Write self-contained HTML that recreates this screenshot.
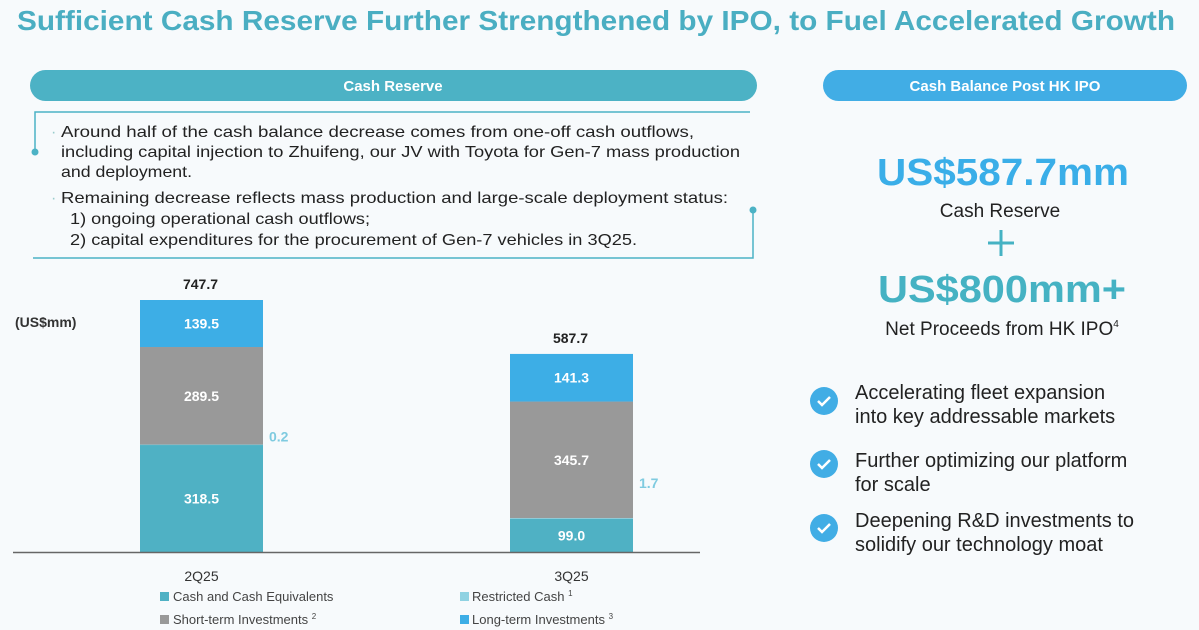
<!DOCTYPE html>
<html><head><meta charset="utf-8"><style>
html,body{margin:0;padding:0;background:#f7fafc;}
svg{display:block;font-family:"Liberation Sans",sans-serif;}
</style></head><body>
<svg id="s" width="1199" height="630" viewBox="0 0 1199 630">
<rect x="0" y="0" width="1199" height="630" fill="#f7fafc"/>
<text x="17" y="30" font-size="28" font-weight="bold" fill="#4aaec2" textLength="1158" lengthAdjust="spacingAndGlyphs">Sufficient Cash Reserve Further Strengthened by IPO, to Fuel Accelerated Growth</text>

<g>
<rect x="30" y="70" width="727" height="31" rx="15.5" fill="#4cb2c5"/>
<text x="393" y="91" font-size="15" font-weight="bold" fill="#fff" text-anchor="middle">Cash Reserve</text>
</g>
<g stroke="#4cb2c5" stroke-width="1.5" fill="none">
<path d="M35 152 V112 H750"/>
<path d="M33 258 H753 V210"/>
</g>
<circle cx="35" cy="152" r="3.5" fill="#4cb2c5"/>
<circle cx="753" cy="210" r="3.5" fill="#4cb2c5"/>
<g font-size="16" fill="#222">
<text x="51" y="137" fill="#9cc">·</text>
<text x="61" y="137" textLength="633" lengthAdjust="spacingAndGlyphs">Around half of the cash balance decrease comes from one-off cash outflows,</text>
<text x="61" y="157" textLength="679" lengthAdjust="spacingAndGlyphs">including capital injection to Zhuifeng, our JV with Toyota for Gen-7 mass production</text>
<text x="61" y="177" textLength="131" lengthAdjust="spacingAndGlyphs">and deployment.</text>
<text x="51" y="203" fill="#9cc">·</text>
<text x="61" y="203" textLength="667" lengthAdjust="spacingAndGlyphs">Remaining decrease reflects mass production and large-scale deployment status:</text>
<text x="70" y="224" textLength="300" lengthAdjust="spacingAndGlyphs">1) ongoing operational cash outflows;</text>
<text x="70" y="245" textLength="567" lengthAdjust="spacingAndGlyphs">2) capital expenditures for the procurement of Gen-7 vehicles in 3Q25.</text>
</g>

<text x="15" y="327" font-size="14" font-weight="bold" fill="#333">(US$mm)</text>
<g id="chart"></g>
<line x1="13" y1="552.5" x2="700" y2="552.5" stroke="#666" stroke-width="1.5"/>

<g font-size="13" fill="#444">
<g><rect x="160" y="592" width="9" height="9" fill="#4fb1c4"/><text x="173" y="601">Cash and Cash Equivalents</text></g>
<g><rect x="460" y="592" width="9" height="9" fill="#8fd2e2"/><text x="472" y="601">Restricted Cash <tspan font-size="8" dy="-5">1</tspan></text></g>
<g><rect x="160" y="615" width="9" height="9" fill="#999"/><text x="173" y="624">Short-term Investments <tspan font-size="8" dy="-5">2</tspan></text></g>
<g><rect x="460" y="615" width="9" height="9" fill="#3daee6"/><text x="472" y="624">Long-term Investments <tspan font-size="8" dy="-5">3</tspan></text></g>
</g>

<g>
<rect x="823" y="70" width="364" height="31" rx="15.5" fill="#41ade5"/>
<text x="1005" y="91" font-size="15" font-weight="bold" fill="#fff" text-anchor="middle">Cash Balance Post HK IPO</text>
</g>
<text x="1003" y="185" font-size="38" font-weight="bold" fill="#3aaee8" text-anchor="middle" textLength="252" lengthAdjust="spacingAndGlyphs">US$587.7mm</text>
<text x="1000" y="217" font-size="19" fill="#222" text-anchor="middle">Cash Reserve</text>
<g stroke="#45b2c3" stroke-width="3"><line x1="988" y1="243" x2="1014" y2="243"/><line x1="1001" y1="230" x2="1001" y2="256"/></g>
<text x="1002" y="302" font-size="38" font-weight="bold" fill="#45b2c3" text-anchor="middle" textLength="248" lengthAdjust="spacingAndGlyphs">US$800mm+</text>
<text x="1002" y="335" font-size="19" fill="#222" text-anchor="middle">Net Proceeds from HK IPO<tspan font-size="10" dy="-8">4</tspan></text>

<g font-size="20" fill="#222">
<g><circle cx="824" cy="401" r="14" fill="#41ade5"/><path d="M818 401 l4 4 l8 -8" stroke="#fff" stroke-width="2.5" fill="none"/>
<text x="855" y="399">Accelerating fleet expansion</text><text x="855" y="423">into key addressable markets</text></g>
<g><circle cx="824" cy="464" r="14" fill="#41ade5"/><path d="M818 464 l4 4 l8 -8" stroke="#fff" stroke-width="2.5" fill="none"/>
<text x="855" y="467">Further optimizing our platform</text><text x="855" y="491">for scale</text></g>
<g><circle cx="824" cy="528" r="14" fill="#41ade5"/><path d="M818 528 l4 4 l8 -8" stroke="#fff" stroke-width="2.5" fill="none"/>
<text x="855" y="527">Deepening R&amp;D investments to</text><text x="855" y="551">solidify our technology moat</text></g>
</g>
</svg>
<script>
const categories = ["2Q25", "3Q25"];
const cashValues = [318.5, 99.0];
const restrictedValues = [0.2, 1.7];
const shortTermValues = [289.5, 345.7];
const longTermValues = [139.5, 141.3];
const totalLabels = ["747.7", "587.7"];

const NS = "http://www.w3.org/2000/svg";
const g = document.getElementById("chart");
const baseY = 552;
const pxPerUnit = 252 / 747.7;
const barW = 123;
const barX = [140, 510];
function y(v){ return baseY - v * pxPerUnit; }
function mk(tag, attrs){ const e = document.createElementNS(NS, tag); for (const k in attrs) e.setAttribute(k, attrs[k]); return e; }

const series = [
  {vals: cashValues, color: "#4fb1c4", name: "cash", label: true},
  {vals: restrictedValues, color: "#8fd2e2", name: "restricted", label: false},
  {vals: shortTermValues, color: "#999999", name: "short-term", label: true},
  {vals: longTermValues, color: "#3daee6", name: "long-term", label: true}
];
categories.forEach((cat, i) => {
  let acc = 0;
  series.forEach(s => {
    const v = s.vals[i];
    const top = y(acc + v), bot = y(acc);
    const r = mk("rect", {x: barX[i], y: top, width: barW, height: Math.max(bot - top, 0.5), fill: s.color});
    
    
    g.appendChild(r);
    if (s.label) {
      const t = mk("text", {x: barX[i] + barW / 2, y: (top + bot) / 2 + 5, "font-size": 14, "font-weight": "bold", fill: "#fff", "text-anchor": "middle"});
      t.textContent = v.toFixed(1);
      
      
      g.appendChild(t);
    } else {
      const t = mk("text", {x: barX[i] + barW + 6, y: y(acc + v) + (i === 0 ? -3 : -30), "font-size": 14, "font-weight": "bold", fill: "#7fcbe0"});
      t.textContent = v.toFixed(1);
      
      
      g.appendChild(t);
    }
    acc += v;
  });
  const tt = mk("text", {x: barX[i] + barW / 2 - 1, y: y(acc) - 11, "font-size": 14, "font-weight": "bold", fill: "#222", "text-anchor": "middle"});
  tt.textContent = totalLabels[i];
  
  
  g.appendChild(tt);
  const ct = mk("text", {x: barX[i] + barW / 2, y: 581, "font-size": 14, fill: "#333", "text-anchor": "middle"});
  ct.textContent = cat;
  
  
  g.appendChild(ct);
});
</script>
</body></html>
